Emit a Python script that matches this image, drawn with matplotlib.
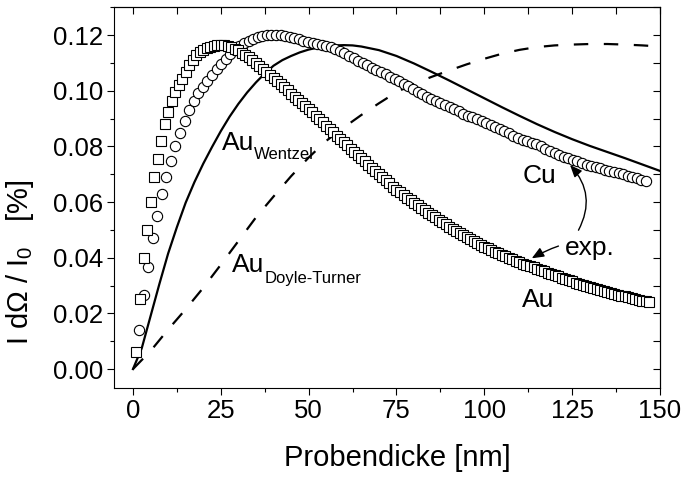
import numpy as np
import matplotlib
matplotlib.use("Agg")
import matplotlib.pyplot as plt
from matplotlib.ticker import MultipleLocator, FormatStrFormatter

plt.rcParams['font.family'] = ['Liberation Sans', 'DejaVu Sans']
plt.rcParams['mathtext.fontset'] = 'custom'
plt.rcParams['mathtext.rm'] = 'Liberation Sans'
plt.rcParams['mathtext.it'] = 'Liberation Sans:italic'

# Au, Messung (Quadrate), Dicke 1, 2, 3 ... nm
au_val = [
    0.0060, 0.0250, 0.0400, 0.0500, 0.0600, 0.0690, 0.0755, 0.0820, 0.0880, 0.0925,
    0.0965, 0.0995, 0.1020, 0.1043, 0.1068, 0.1092, 0.1112, 0.1128, 0.1140, 0.1148,
    0.1154, 0.1159, 0.1162, 0.1164, 0.1164, 0.1163, 0.1160, 0.1156, 0.1151, 0.1145,
    0.1137, 0.1129, 0.1120, 0.1110, 0.1099, 0.1088, 0.1077, 0.1066, 0.1055, 0.1045,
    0.1034, 0.1023, 0.1012, 0.1001, 0.0990, 0.0979, 0.0968, 0.0957, 0.0946, 0.0935,
    0.0923, 0.0911, 0.0899, 0.0887, 0.0875, 0.0863, 0.0851, 0.0839, 0.0827, 0.0815,
    0.0804, 0.0792, 0.0781, 0.0769, 0.0758, 0.0746, 0.0735, 0.0723, 0.0712, 0.0700,
    0.0689, 0.0678, 0.0667, 0.0656, 0.0645, 0.0635, 0.0626, 0.0616, 0.0607, 0.0597,
    0.0588, 0.0580, 0.0571, 0.0562, 0.0553, 0.0545, 0.0537, 0.0528, 0.0520, 0.0512,
    0.0504, 0.0497, 0.0489, 0.0482, 0.0474, 0.0467, 0.0460, 0.0454, 0.0447, 0.0440,
    0.0434, 0.0428, 0.0422, 0.0416, 0.0410, 0.0405, 0.0400, 0.0394, 0.0389, 0.0384,
    0.0379, 0.0374, 0.0370, 0.0365, 0.0360, 0.0355, 0.0351, 0.0346, 0.0342, 0.0337,
    0.0333, 0.0328, 0.0324, 0.0319, 0.0315, 0.0311, 0.0307, 0.0303, 0.0299, 0.0295,
    0.0291, 0.0288, 0.0284, 0.0281, 0.0277, 0.0274, 0.0271, 0.0267, 0.0264, 0.0261,
    0.0258, 0.0255, 0.0252, 0.0249, 0.0246, 0.0243, 0.0240,
]
au_d = np.arange(1, len(au_val) + 1)

# Cu, Messung (Kreise), Dicke 1.7 nm in Schritten von 1.3 nm
cu_val = [
    0.0140, 0.0265, 0.0368, 0.0470, 0.0550, 0.0629, 0.0690, 0.0748, 0.0802, 0.0847,
    0.0892, 0.0931, 0.0965, 0.0993, 0.1015, 0.1036, 0.1057, 0.1077, 0.1096, 0.1114,
    0.1131, 0.1146, 0.1160, 0.1171, 0.1180, 0.1187, 0.1193, 0.1197, 0.1199, 0.1200,
    0.1200, 0.1199, 0.1196, 0.1193, 0.1189, 0.1185, 0.1180, 0.1176, 0.1172, 0.1169,
    0.1166, 0.1162, 0.1157, 0.1151, 0.1143, 0.1135, 0.1126, 0.1117, 0.1108, 0.1099,
    0.1091, 0.1083, 0.1075, 0.1067, 0.1059, 0.1051, 0.1043, 0.1035, 0.1026, 0.1017,
    0.1007, 0.0997, 0.0987, 0.0979, 0.0971, 0.0963, 0.0955, 0.0948, 0.0941, 0.0934,
    0.0926, 0.0918, 0.0910, 0.0904, 0.0898, 0.0892, 0.0885, 0.0877, 0.0869, 0.0862,
    0.0856, 0.0848, 0.0838, 0.0830, 0.0823, 0.0818, 0.0813, 0.0807, 0.0800, 0.0792,
    0.0783, 0.0775, 0.0769, 0.0763, 0.0758, 0.0752, 0.0746, 0.0740, 0.0734, 0.0730,
    0.0726, 0.0722, 0.0717, 0.0712, 0.0708, 0.0704, 0.0700, 0.0695, 0.0690, 0.0685,
    0.0680, 0.0674,
]
cu_d = 1.7 + 1.3 * np.arange(len(cu_val))

# Rechnung Au, Wentzel-Potential
wz_d = [0, 2.5, 5, 7.5, 10, 12.5, 15, 17.5, 20, 22.5, 25, 27.5, 30, 32.5, 35, 37.5, 40,
        42.5, 45, 47.5, 50, 52.5, 55, 57.5, 60, 62.5, 65, 70, 75, 80, 85, 90, 95, 100,
        105, 110, 115, 120, 125, 130, 135, 140, 145, 150]
wz_val = [0.0, 0.0075, 0.0190, 0.0305, 0.0415, 0.0510, 0.0598, 0.0672, 0.0738, 0.0798,
          0.0855, 0.0907, 0.0953, 0.0994, 0.1030, 0.1062, 0.1090, 0.1110, 0.1125, 0.1138,
          0.1148, 0.1155, 0.1160, 0.1163, 0.1164, 0.1163, 0.1159, 0.1146, 0.1125, 0.1098,
          0.1068, 0.1037, 0.1005, 0.0973, 0.0941, 0.0910, 0.0880, 0.0852, 0.0826, 0.0802,
          0.0780, 0.0758, 0.0735, 0.0712]

# Rechnung Au, Doyle-Turner-Parameter
dt_d = [0, 5, 10, 15, 20, 25, 30, 35, 40, 45, 50, 55, 60, 65, 70, 75, 80, 85, 90, 95,
        100, 105, 110, 115, 120, 125, 130, 135, 140, 145, 150]
dt_val = [0.0, 0.0065, 0.0142, 0.0215, 0.0292, 0.0375, 0.0460, 0.0545, 0.0620, 0.0693,
          0.0760, 0.0820, 0.0868, 0.0913, 0.0955, 0.0995, 0.1025, 0.1050, 0.1073, 0.1095,
          0.1115, 0.1133, 0.1147, 0.1157, 0.1163, 0.1166, 0.1168, 0.1168, 0.1166, 0.1163,
          0.1159]

fs_tick = 18.5
fs_axis = 21
fs_lab = 19
fs_sub = 12

fig = plt.figure(figsize=(6.86, 4.78), dpi=100)
ax = fig.add_axes([114 / 686, 90 / 478, 546 / 686, 381 / 478])

ax.plot(wz_d, wz_val, color='black', lw=1.6, zorder=2)
ax.plot(dt_d, dt_val, color='black', lw=1.6, linestyle=(0, (6.5, 7)), zorder=2)
ax.plot(cu_d, cu_val, 'o', ms=7.4, mfc='white', mec='black', mew=0.8, zorder=3)
ax.plot(au_d, au_val, 's', ms=7.2, mfc='white', mec='black', mew=0.8, zorder=4)

ax.set_xlim(-5.4, 150)
ax.set_ylim(-0.0068, 0.1301)

ax.xaxis.set_major_locator(MultipleLocator(25))
ax.xaxis.set_minor_locator(MultipleLocator(12.5))
ax.yaxis.set_major_locator(MultipleLocator(0.02))
ax.yaxis.set_minor_locator(MultipleLocator(0.01))
ax.yaxis.set_major_formatter(FormatStrFormatter('%.2f'))
ax.tick_params(which='both', direction='out', width=0.8, labelsize=fs_tick, pad=3)
ax.tick_params(which='major', length=5)
ax.tick_params(which='minor', length=3)
for sp in ax.spines.values():
    sp.set_linewidth(0.8)

# obere und rechte Achse: nur Striche nach innen
top = ax.secondary_xaxis('top')
top.set_xticks(np.arange(0, 151, 12.5))
top.tick_params(direction='in', length=5, width=0.8, labeltop=False)
right = ax.secondary_yaxis('right')
right.set_yticks(np.arange(0, 0.131, 0.01))
right.tick_params(direction='in', length=5, width=0.8, labelright=False)

fig.text(397 / 686, 1 - 458 / 478, 'Probendicke [nm]', fontsize=fs_axis,
         ha='center', va='center')
fig.text(20 / 686, 1 - 262 / 478, r'I d$\Omega$ / I$_0$   [%]', fontsize=fs_axis,
         rotation=90, ha='center', va='center')


def label(x, y, main, sub=None, dx=23.5, dy=-6.5):
    ax.text(x, y, main, fontsize=fs_lab)
    if sub:
        ax.annotate(sub, xy=(x, y), xytext=(dx, dy), textcoords='offset points',
                    fontsize=fs_sub, va='baseline')


label(25.2, 0.0787, 'Au', 'Wentzel')
label(28.1, 0.0349, 'Au', 'Doyle-Turner', dy=-8)
label(111.0, 0.0668, 'Cu')
label(110.6, 0.0224, 'Au')
label(123.0, 0.0410, 'exp.')

arrow = dict(arrowstyle='-|>,head_length=0.6,head_width=0.25', color='black',
             lw=1.0, mutation_scale=12, shrinkA=0, shrinkB=0)
ax.annotate('', xy=(124.4, 0.0733), xytext=(126.8, 0.0499),
            arrowprops=dict(arrow, connectionstyle='arc3,rad=0.35'))
ax.annotate('', xy=(113.5, 0.0398), xytext=(121.1, 0.0442),
            arrowprops=dict(arrow, connectionstyle='arc3,rad=0.05'))

fig.savefig('out.png', dpi=100)
